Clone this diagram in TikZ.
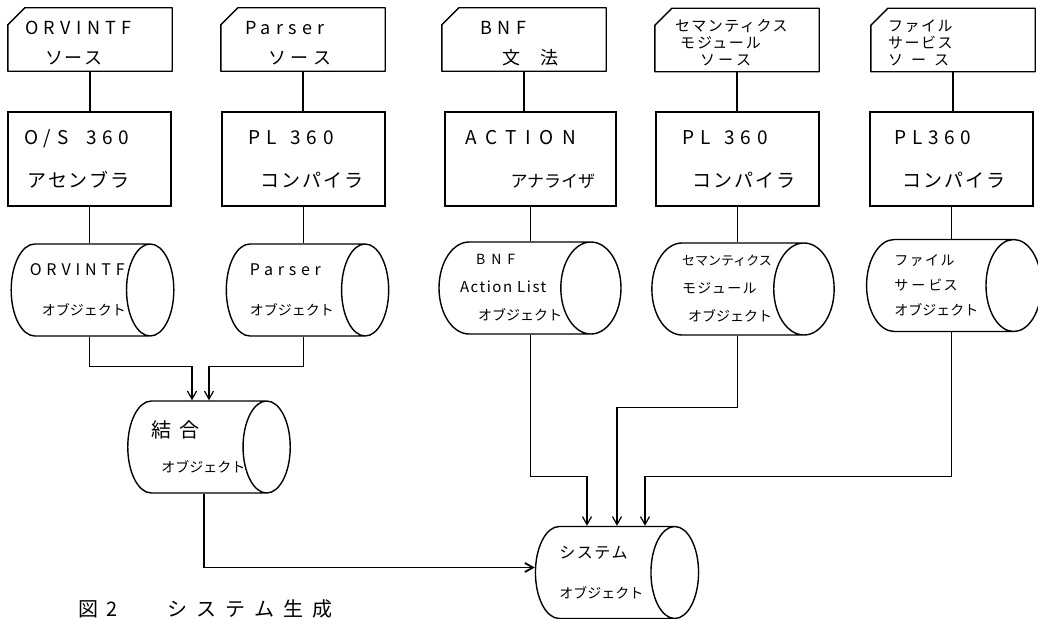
\documentclass[tikz,border=0pt]{standalone}
\usepackage{fontspec}
\setmainfont{Noto Sans CJK JP}[LetterSpace=10]
\newfontfamily\plainjp{Noto Sans CJK JP}
\newfontfamily\widelatin{Noto Sans CJK JP}[LetterSpace=30]
\usetikzlibrary{shapes.geometric,arrows.meta,calc}

\newcommand{\objlabel}{{\plainjp\fontsize{14}{14}\selectfont オブジェクト}}

\tikzset{
  card/.style={rectangle, minimum width=164pt, minimum height=63pt, inner sep=0pt,
    text width=130pt, align=left, font=\fontsize{18}{30}\selectfont,
    text height=20pt, text depth=29pt},
  cardline/.style={line width=1.4pt, line join=round},
  proc/.style={draw, line width=1.4pt, rectangle, minimum width=163pt, minimum height=94pt,
    inner sep=0pt, text width=130pt, align=left, font=\fontsize{19}{43}\selectfont},
  drum/.style={draw, line width=1.4pt, cylinder, shape border rotate=0, aspect=0.9,
    minimum height=154pt, minimum width=92pt, inner sep=0pt, text width=91pt, align=left,
    font=\fontsize{16}{40}\selectfont, anchor=shape center},
  link/.style={line width=1.2pt},
  flow/.style={line width=1.2pt, -{Straight Barb[length=8pt,width=9pt]}}
}

\begin{document}
\begin{tikzpicture}[x=1pt,y=-1pt]
\fill[white] (0,0) rectangle (1038,618);
\useasboundingbox (0,0) rectangle (1038,618);
% sources (punched cards)
\node[card] (src1) at (90,39.5) {{\widelatin ORVINTF}\\\hspace*{20pt}ソ\hspace{2pt}ー\hspace{2pt}ス};
\node[card] (src2) at (303,39.5) {\hspace*{7pt}{\widelatin Parser}\\\hspace*{30pt}ソ\hspace{5pt}ー\hspace{5pt}ス};
\node[card] (src3) at (524,39.5) {\hspace*{21pt}{\widelatin B\hspace{6pt}N\hspace{6pt}F}\\\hspace*{43pt}文\hspace{20pt}法};
\node[card, font=\fontsize{15}{17}\selectfont, text height=16pt, text depth=32pt] (src4) at (737,40) {\hspace*{3pt}セマンティクス\\\hspace*{8pt}モ\hspace{2pt}ジュー\hspace{2pt}ル\\\hspace*{28pt}ソ\hspace{3pt}ー\hspace{3pt}ス};
\node[card, font=\fontsize{15}{17}\selectfont, text height=16pt, text depth=32pt] (src5) at (953,40) {ファイル\\サービス\\ソ\hspace{8pt}ー\hspace{8pt}ス};
\foreach \i in {1,...,5}
  \draw[cardline] ([yshift=-17pt]src\i.north west) -- ([xshift=17pt]src\i.north west) -- (src\i.north east)
    -- (src\i.south east) -- (src\i.south west) -- cycle;
% processors
\node[proc] (prc1) at (89.5,159) {{\widelatin O/S\hspace{18pt}360}\\\hspace*{3pt}アセンブラ};
\node[proc] (prc2) at (303.5,159) {\hspace*{10pt}{\widelatin PL\hspace{14pt}360}\\\hspace*{22pt}コンパイラ};
\node[proc, minimum width=171pt] (prc3) at (530.5,159) {{\widelatin\addfontfeature{LetterSpace=45}ACTION}\\\hspace*{45pt}{\plainjp\fontsize{17}{17}\selectfont アナライザ}};
\node[proc] (prc4) at (737.5,159) {\hspace*{10pt}{\widelatin PL\hspace{14pt}360}\\\hspace*{20pt}コンパイラ};
\node[proc] (prc5) at (951.5,159) {\hspace*{8pt}{\widelatin PL360}\\\hspace*{16pt}コンパイラ};
% object files
\node[drum] (obj1) at (92.5,290) {\hspace*{-5pt}{\widelatin ORVINTF}\\\hspace*{7pt}\objlabel};
\node[drum] (obj2) at (307.5,290) {{\widelatin Parser}\\\objlabel};
\node[drum, font=\fontsize{14}{28}\selectfont] (obj3) at (530,288) {\hspace*{7pt}{\widelatin B\hspace{6pt}N\hspace{6pt}F}\\\hspace*{-9pt}{\fontsize{15}{15}\selectfont Action\hspace{5pt}List}\\\hspace*{9pt}\objlabel};
\node[drum, font=\fontsize{14}{28}\selectfont] (obj4) at (743,289) {{\plainjp\fontsize{13}{13}\selectfont セマンティクス}\\モジュール\\\hspace*{6pt}\objlabel};
\node[drum, font=\fontsize{14}{25}\selectfont] (obj5) at (954,285.5) {ファイル\\サ\hspace{3pt}ー\hspace{3pt}ビス\\\objlabel};
\node[drum, font=\fontsize{15}{35}\selectfont] (comb) at (209,447) {{\fontsize{20}{20}\selectfont 結\hspace{8pt}合}\\\hspace*{10pt}\objlabel};
\node[drum] (sys) at (617,572.5) {システム\\\objlabel};
\node[anchor=north west, font=\fontsize{20}{20}\selectfont] (caption) at (75,596) {図\hspace{8pt}2\hspace{50pt}{\addfontfeature{LetterSpace=45}システム生成}};

\foreach \i in {1,...,5}{
  \draw[link] (src\i.south) -- (src\i.south |- prc\i.north);
  \draw[link] (prc\i.south) -- (prc\i.south |- obj\i.north);
}
\draw[flow] (prc1.south |- obj1.south) -- ++(0,30) -| ([xshift=-17pt]comb.shape center |- comb.north);
\draw[flow] (prc2.south |- obj2.south) -- ++(0,30) -| (comb.shape center |- comb.north);
\draw[flow, line width=1.8pt] ([xshift=-5pt]comb.shape center |- comb.south) |- ([yshift=5pt]sys.west);
\draw[flow] (prc3.south |- obj3.south) -- ++(0,142) -| ([xshift=-30pt]sys.shape center |- sys.north);
\draw[flow] (prc4.south |- obj4.south) -- ++(0,72) -| (sys.shape center |- sys.north);
\draw[flow] (prc5.south |- obj5.south) -- ++(0,144) -| ([xshift=28pt]sys.shape center |- sys.north);
\end{tikzpicture}
\end{document}
